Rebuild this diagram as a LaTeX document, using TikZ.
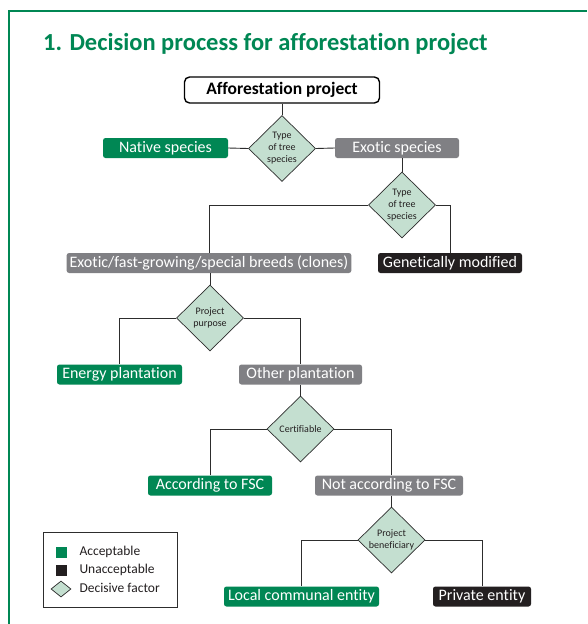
\documentclass[tikz,border=0pt]{standalone}
\usepackage{fontspec}
\setmainfont{Carlito}[Ligatures=NoCommon]
\usetikzlibrary{shapes.geometric}
\definecolor{okgreen}{RGB}{0,135,84}
\definecolor{midgray}{RGB}{128,128,132}
\definecolor{nearblack}{RGB}{35,31,32}
\definecolor{factorfill}{RGB}{196,223,208}
\definecolor{linegray}{RGB}{45,45,45}

\begin{document}
\begin{tikzpicture}[x=1pt,y=-1pt,
  outcome/.style={rounded corners=2.5pt, text=white, font=\fontsize{16}{17}\selectfont,
    inner xsep=3pt, inner ysep=0pt, minimum height=20pt},
  good/.style={outcome, fill=okgreen},
  neutral/.style={outcome, fill=midgray},
  bad/.style={outcome, fill=nearblack},
  factor/.style={diamond, draw=linegray, line width=0.7pt, fill=factorfill,
    minimum width=67pt, minimum height=66pt, inner sep=0pt, align=center,
    font=\fontsize{10}{12}\selectfont, text=nearblack},
  link/.style={draw=linegray, line width=0.9pt},
  keytext/.style={anchor=west, text=nearblack, font=\fontsize{13.5}{15}\selectfont},
]
\useasboundingbox (0,0) rectangle (587,624);
\fill[white] (0,0) rectangle (587,624);

% panel frame (top and left edges)
\draw[okgreen, line width=2.5pt] (9,624) -- (9,11) -- (587,11);

% heading
\node[anchor=base west, text=okgreen, font=\fontsize{24.5}{28}\selectfont\bfseries, inner sep=0pt]
  (title) at (43,50) {1. Decision process for afforestation project};

% start of the decision tree
\node[draw=black, line width=1.4pt, rounded corners=5pt, fill=white,
  minimum width=195pt, minimum height=26pt, font=\fontsize{17.5}{19}\selectfont\bfseries]
  (start) at (282,90) {Afforestation project};

% first split: native or exotic
\node[factor] (d1) at (282,148.5) {Type\\of tree\\species};
\node[good, minimum width=125pt] (native) at (165.5,148) {Native species};
\node[neutral, minimum width=124pt] (exotic) at (397,148) {Exotic species};

% second split on exotic species
\node[factor] (d2) at (402,205) {Type\\of tree\\species};
\node[neutral, minimum width=282pt] (fast) at (209,263) {Exotic/fast-growing/special breeds (clones)};
\node[bad, minimum width=144pt] (gm) at (450,263) {Genetically modified};

% project purpose
\node[factor] (d3) at (210,318) {Project\\purpose};
\node[good, minimum width=125pt] (energy) at (119.5,374.5) {Energy plantation};
\node[neutral, minimum width=123pt] (other) at (300.5,374.5) {Other plantation};

% certification
\node[factor] (d4) at (300.5,429) {Certifiable};
\node[good, minimum width=124pt] (fsc) at (210,485.5) {According to FSC};
\node[neutral, minimum width=148pt] (nfsc) at (389,485.5) {Not according to FSC};

% beneficiary
\node[factor] (d5) at (391.5,540) {Project\\beneficiary};
\node[good, minimum width=155pt] (local) at (301.5,596.5) {Local communal entity};
\node[bad, minimum width=98pt] (private) at (482,596.5) {Private entity};

% connectors
\draw[link] (start.south) -- (d1.north);
\draw[link] (native.east) -- (d1.west);
\draw[link] (d1.east) -- (exotic.west);
\draw[link] (d2.north |- exotic.south) -- (d2.north);
\draw[link] (d2.west) -| (fast.north);
\draw[link] (d2.east) -| (gm.north);
\draw[link] (d3.north |- fast.south) -- (d3.north);
\draw[link] (d3.west) -| (energy.north);
\draw[link] (d3.east) -| (other.north);
\draw[link] (other.south) -- (d4.north);
\draw[link] (d4.west) -| (fsc.north);
\draw[link] (d4.east) -| (d5.north |- nfsc.north);
\draw[link] (d5.north |- nfsc.south) -- (d5.north);
\draw[link] (d5.west) -| (local.north);
\draw[link] (d5.east) -| (private.north);

% legend
\node[draw=linegray, line width=0.8pt, minimum width=134pt, minimum height=75pt] (legend) at (110,569.5) {};
\node[fill=okgreen, minimum size=11pt, inner sep=0pt] (kgood) at (61,552) {};
\node[fill=nearblack, minimum size=11pt, inner sep=0pt] (kbad) at (61,570) {};
\node[diamond, draw=linegray, line width=0.7pt, fill=factorfill, minimum width=20pt, minimum height=16pt, inner sep=0pt] (kfactor) at (61,589) {};
\node[keytext] (tgood) at (76,552) {Acceptable};
\node[keytext] (tbad) at (76,570) {Unacceptable};
\node[keytext] (tfactor) at (76,588) {Decisive factor};
\end{tikzpicture}
\end{document}
